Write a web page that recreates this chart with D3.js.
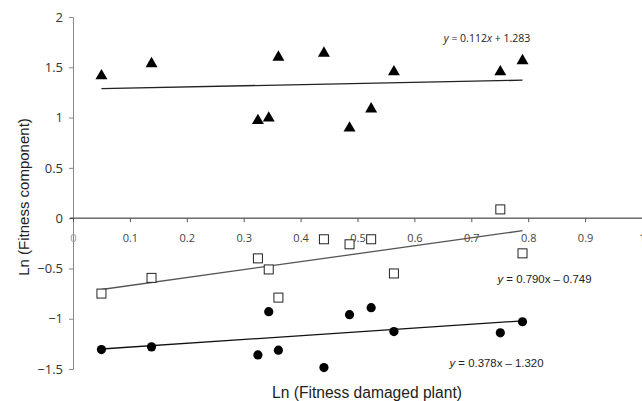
<!DOCTYPE html>
<html><head><meta charset="utf-8">
<script src="https://cdn.jsdelivr.net/npm/d3@7"></script>
<style>body{margin:0;background:#fff}svg{display:block}</style>
</head><body>
<svg id="c" width="642" height="401"></svg>
<script>
const xVals = [0.050, 0.138, 0.325, 0.344, 0.361, 0.441, 0.486, 0.524, 0.564, 0.751, 0.790];
const triangleVals = [1.42, 1.54, 0.975, 1.00, 1.605, 1.645, 0.90, 1.09, 1.46, 1.46, 1.57];
const squareVals = [-0.75, -0.594, -0.40, -0.51, -0.79, -0.21, -0.26, -0.21, -0.55, 0.087, -0.35];
const circleVals = [-1.307, -1.28, -1.36, -0.93, -1.313, -1.486, -0.96, -0.89, -1.128, -1.14, -1.03];
const fits = [
  {name:"triangle", slope:0.112, intercept:1.283, label:"y = 0.112x + 1.283"},
  {name:"square", slope:0.790, intercept:-0.749, label:"y = 0.790x \u2013 0.749"},
  {name:"circle", slope:0.378, intercept:-1.320, label:"y = 0.378x \u2013 1.320"}
];
const xTicks = [0,0.1,0.2,0.3,0.4,0.5,0.6,0.7,0.8,0.9,1];
const yTicks = [-1.5,-1,-0.5,0,0.5,1,1.5,2];

const svg = d3.select("#c");
const x = d3.scaleLinear().domain([0,1]).range([73,642]);
const y = d3.scaleLinear().domain([-1.5,2]).range([369,17]);
const fmt = d => d === 0 ? "0" : (d < 0 ? "\u2212" + Math.abs(d) : String(d));

// y axis
const ya = svg.append("g").attr("transform",`translate(${x(0)},0)`)
  .call(d3.axisLeft(y).tickValues(yTicks).tickSize(4).tickPadding(6).tickFormat(fmt).tickSizeOuter(0));
ya.select(".domain").attr("stroke","#888");
ya.selectAll(".tick line").attr("stroke","#888");
ya.selectAll("text").attr("font-family","Open Sans, sans-serif").attr("font-size",13).attr("fill","#333");

// x axis
const xa = svg.append("g").attr("transform",`translate(0,${y(0)})`)
  .call(d3.axisBottom(x).tickValues(xTicks).tickSize(4).tickPadding(12).tickFormat(d=>String(d)).tickSizeOuter(0));
xa.select(".domain").attr("stroke","#222").attr("d",`M${x(0)-3},0H642`);
xa.selectAll(".tick line").attr("stroke","#555");
xa.selectAll("text").attr("font-family","Open Sans, sans-serif").attr("font-size",11).attr("fill","#444");
xa.selectAll(".tick").filter(d=>d===0).select("text").attr("fill","#999");

// trend lines
const x0 = d3.min(xVals), x1 = d3.max(xVals);
const lineColors = {triangle:"#222", square:"#555", circle:"#111"};
fits.forEach(f=>{
  svg.append("line")
    .attr("x1",x(x0)).attr("y1",y(f.slope*x0+f.intercept))
    .attr("x2",x(x1)).attr("y2",y(f.slope*x1+f.intercept))
    .attr("stroke",lineColors[f.name]).attr("stroke-width",1.3);
});

// markers
const tri = d3.symbol().type(d3.symbolTriangle).size(62);
svg.append("g").selectAll("path").data(xVals.map((v,i)=>[v,triangleVals[i]])).join("path")
  .attr("d",tri).attr("transform",d=>`translate(${x(d[0])},${y(d[1])+0.5})`).attr("fill","#000");
svg.append("g").selectAll("rect").data(xVals.map((v,i)=>[v,squareVals[i]])).join("rect")
  .attr("x",d=>x(d[0])-4.5).attr("y",d=>y(d[1])-4.5).attr("width",9).attr("height",9)
  .attr("fill","#fff").attr("stroke","#222").attr("stroke-width",1);
svg.append("g").selectAll("circle").data(xVals.map((v,i)=>[v,circleVals[i]])).join("circle")
  .attr("cx",d=>x(d[0])).attr("cy",d=>y(d[1])).attr("r",4.6).attr("fill","#000");

// equation labels
const eqPos = {triangle:[487,38.3,10.5,"Open Sans, sans-serif",true], square:[544.5,279.3,11.4,"Liberation Sans, Arial, sans-serif",false], circle:[496.5,362.7,11.4,"Liberation Sans, Arial, sans-serif",false]};
fits.forEach(f=>{
  const p = eqPos[f.name];
  const t = svg.append("text").attr("x",p[0]).attr("y",p[1]).attr("dy","0.35em")
    .attr("text-anchor","middle").attr("font-family",p[3]).attr("font-size",p[2]).attr("fill","#222");
  const parts = f.label.split(/(y|x)/).filter(s=>s.length);
  parts.forEach(s=>{
    const it = s==="y" || (s==="x" && p[4]);
    t.append("tspan").text(s).attr("font-style",it?"italic":null);
  });
});

// axis titles
svg.append("text").attr("x",367).attr("y",393).attr("dy","0.35em").attr("text-anchor","middle")
  .attr("font-family","Liberation Sans, Arial, sans-serif").attr("font-size",15.6).attr("fill","#222")
  .text("Ln (Fitness damaged plant)");
svg.append("text").attr("transform","translate(24,197) rotate(-90)").attr("dy","0.35em").attr("text-anchor","middle")
  .attr("font-family","Liberation Sans, Arial, sans-serif").attr("font-size",15).attr("fill","#222")
  .text("Ln (Fitness component)");
</script>
</body></html>
